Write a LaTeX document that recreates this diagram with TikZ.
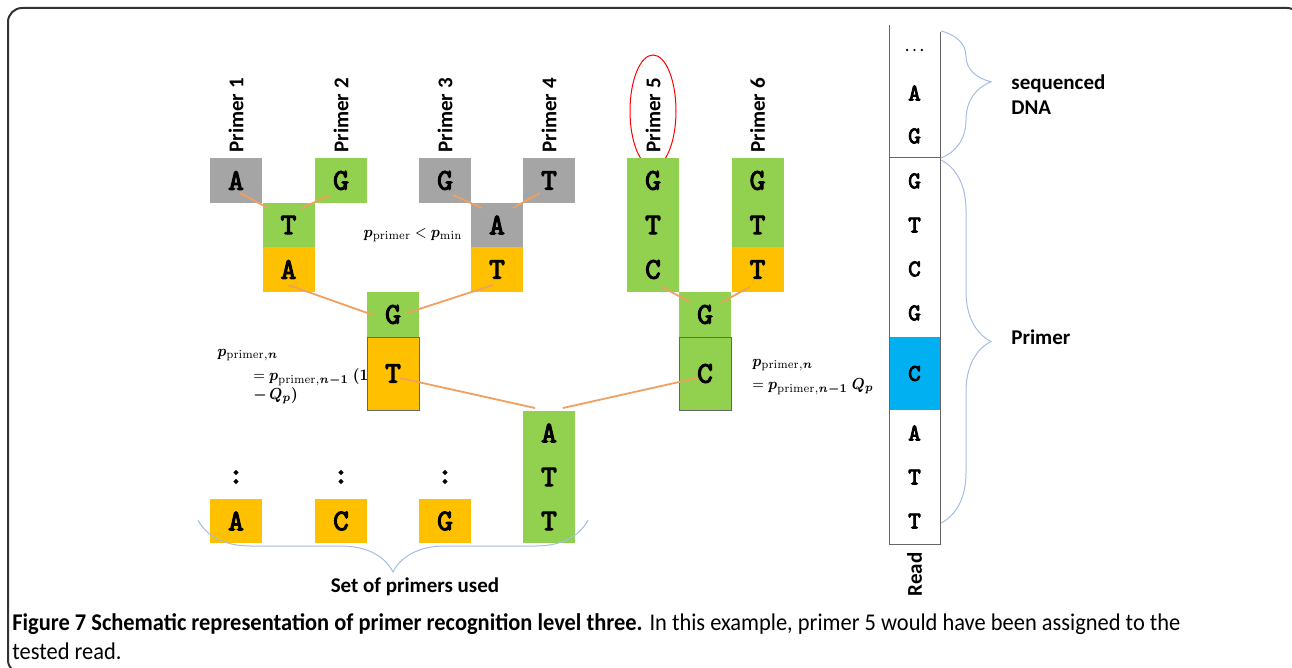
\documentclass[tikz,border=0pt]{standalone}
\usepackage[no-math]{fontspec}
\usepackage{amsmath,bm}
\setmainfont{Carlito}
\newfontfamily\monobase[AutoFakeBold=3.5]{lmmono10-regular.otf}
\newcommand\basefont{\monobase\bfseries}
\usetikzlibrary{calc,decorations.pathreplacing}
\definecolor{dropc}{HTML}{A5A5A5}
\definecolor{matchc}{HTML}{92D050}
\definecolor{missc}{HTML}{FFC000}
\definecolor{readc}{HTML}{00B0F0}
\definecolor{linkc}{HTML}{F0A060}
\definecolor{bracec}{HTML}{A4BDE3}
\tikzset{
  nt/.style={minimum width=26pt, minimum height=22.4pt, inner sep=0pt, font=\basefont\fontsize{15}{15}\selectfont},
  dropped/.style={nt, fill=dropc},
  match/.style={nt, fill=matchc},
  mismatch/.style={nt, fill=missc},
  tall/.style={minimum height=36.5pt, draw=black!60, line width=0.4pt},
  readnt/.style={inner sep=0pt, font=\basefont\fontsize{12}{12}\selectfont},
  link/.style={draw=linkc, line width=0.9pt},
  plabel/.style={font=\bfseries\fontsize{10.5}{12}\selectfont, rotate=90, anchor=west, inner sep=0pt},
  txt/.style={font=\bfseries\fontsize{10.5}{12.5}\selectfont, inner sep=0pt},
  frm/.style={font=\fontsize{8.5}{10}\selectfont, inner sep=0pt, anchor=west},
  brc/.style={draw=bracec, line width=0.5pt, decorate, decoration={brace, amplitude=#1}},
}
\newcommand\sq[1]{\scalebox{0.88}[1]{#1}}
\begin{document}
\begin{tikzpicture}[x=0.5pt, y=-0.5pt]
\useasboundingbox (0,0) rectangle (1292,668);
\draw[black!80, line width=1pt, rounded corners=7pt] (8,8) rectangle (1301,674);
% primer names
\foreach \x/\n in {236/1, 341/2, 445/3, 549/4, 653/5, 757.5/6}
  \node[plabel] (name\n) at (\x,153) {Primer \n};
\draw[red, line width=0.5pt] (653,111) ellipse [x radius=23, y radius=56];
% first row
\node[dropped] (a1) at (236,180.5) {A};
\node[match] (g2) at (341,180.5) {G};
\node[dropped] (g3) at (445,180.5) {G};
\node[dropped] (t4) at (549,180.5) {T};
\node[match] (g5) at (653,180.5) {G};
\node[match] (t5) at (653,225) {T};
\node[match] (c5) at (653,269.5) {C};
\node[match] (g6) at (757.5,180.5) {G};
\node[match] (t6) at (757.5,225) {T};
\node[mismatch] (tt6) at (757.5,269.5) {T};
% second level
\node[match] (t12) at (288.5,225) {T};
\node[mismatch] (a12) at (288.5,269.5) {A};
\node[dropped] (a34) at (497,225) {A};
\node[mismatch] (t34) at (497,269.5) {T};
% third level
\node[match] (g14) at (393,314.5) {G};
\node[mismatch, tall] (t14) at (393,373.5) {T};
\node[match] (g56) at (705,314.5) {G};
\node[match, tall] (c56) at (705,373.5) {C};
% fourth level
\node[match] (a16) at (549,433) {A};
\node[match] (t16) at (549,477) {T};
\node[match] (tt16) at (549,521) {T};
\foreach \x/\b [count=\i] in {236/A, 341/C, 445/G}{
  \node[mismatch] (set\i) at (\x,521) {\b};
  \node[nt] (dots\i) at (\x,477) {:};
}
% links
\draw[link] ($(a1)+(4,12.5)$) -- ($(t12)+(-20.5,-17)$);
\draw[link] ($(g2)+(-11,14.5)$) -- ($(t12)+(13.5,-17)$);
\draw[link] ($(g3)+(8,14.5)$) -- ($(a34)+(-15,-17)$);
\draw[link] ($(t4)+(-9,12.5)$) -- ($(a34)+(16,-17)$);
\draw[link] ($(a12)+(0,15.5)$) -- ($(g14)+(-20,0.5)$);
\draw[link] ($(t34)+(-4,15.5)$) -- ($(g14)+(14,-1.5)$);
\draw[link] ($(c5)+(9,17.5)$) -- ($(g56)+(-15,-12.5)$);
\draw[link] ($(tt6)+(-7.5,17.5)$) -- ($(g56)+(17,-12.5)$);
\draw[link] ($(t14)+(7,4.5)$) -- ($(a16)+(-14,-25)$);
\draw[link] ($(c56)+(-8,4.5)$) -- ($(a16)+(14,-25)$);
% formulas
\node[frm, anchor=center] (pmin) at (413,235) {\sq{$\bm{p}_{\mathrm{primer}} < \bm{p}_{\min}$}};
\node[frm] (fl1) at (217,355) {\sq{$\bm{p}_{\mathrm{primer},\bm{n}}$}};
\node[frm] (fl2) at (253,377) {\sq{$= \bm{p}_{\mathrm{primer},\bm{n-1}}\;\bm{(1}$}};
\node[frm] (fl3) at (253,396) {\sq{$\bm{-\,Q_p)}$}};
\node[frm] (fr1) at (752,365) {\sq{$\bm{p}_{\mathrm{primer},\bm{n}}$}};
\node[frm] (fr2) at (752,387) {\sq{$= \bm{p}_{\mathrm{primer},\bm{n-1}}\;\bm{Q_p}$}};
% read
\fill[readc] (889,337) rectangle (940,410);
\draw[black!60, line width=0.5pt] (889,25) -- (889,544) -- (940,544) -- (940,32);
\draw[black!60, line width=0.5pt] (889,158) -- (940,158);
\node[readnt] (rdots) at (914.5,50) {\fontsize{7}{8}\selectfont...};
\foreach \y/\b [count=\i] in {93/A, 136/G, 181/G, 225/T, 269/C, 313/G, 373.5/C, 433/A, 477/T, 521/T}
  \node[readnt] (r\i) at (914.5,\y) {\b};
\node[plabel, anchor=east] (read) at (914.5,552) {Read};
% braces
\draw[brc=25pt, decoration={aspect=0.4}] (941,31) -- (941,158);
\draw[brc=25pt] (941,160) -- (941,523);
\draw[brc=26pt] (588,520) -- (198,520);
\node[txt, anchor=west, align=left] (seq) at (1011,95) {sequenced\\DNA};
\node[txt, anchor=west] (prim) at (1011,337) {Primer};
\node[txt] (used) at (415,587) {Set of primers used};
% caption
\node[anchor=base west, inner sep=0pt, font=\fontsize{12}{13}\selectfont] (cap1) at (12,630)
  {\scalebox{0.935}[1]{\textbf{Figure 7 Schematic representation of primer recognition level three.} In this example, primer 5 would have been assigned to the}};
\node[anchor=base west, inner sep=0pt, font=\fontsize{12}{13}\selectfont] (cap2) at (12,659)
  {\scalebox{0.935}[1]{tested read.}};
\end{tikzpicture}
\end{document}
